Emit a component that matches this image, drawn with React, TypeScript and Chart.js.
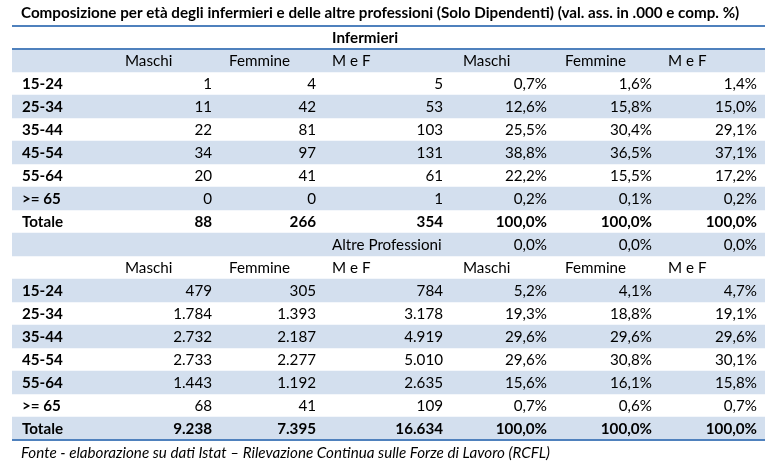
import React, { useEffect, useRef } from "react";
import { Chart, registerables } from "chart.js";

Chart.register(...registerables);

const TITLE =
  "Composizione per età degli infermieri e delle altre professioni (Solo Dipendenti) (val. ass. in .000 e comp. %)";
const SOURCE =
  "Fonte - elaborazione su dati Istat – Rilevazione Continua sulle Forze di Lavoro (RCFL)";

const AGE_GROUPS = ["15-24", "25-34", "35-44", "45-54", "55-64", ">= 65"];
const TOTAL_LABEL = "Totale";
const COLUMN_HEADERS = ["Maschi", "Femmine", "M e F", "Maschi", "Femmine", "M e F"];
const SECTION_1 = "Infermieri";
const SECTION_2 = "Altre Professioni";

// Infermieri (val. ass. in .000)
const infMaschi = [1, 11, 22, 34, 20, 0];
const infFemmine = [4, 42, 81, 97, 41, 0];
const infMeF = [5, 53, 103, 131, 61, 1];
const infTotals = [88, 266, 354];
// Infermieri (comp. %)
const infPctMaschi = [0.7, 12.6, 25.5, 38.8, 22.2, 0.2];
const infPctFemmine = [1.6, 15.8, 30.4, 36.5, 15.5, 0.1];
const infPctMeF = [1.4, 15.0, 29.1, 37.1, 17.2, 0.2];
const infPctTotals = [100, 100, 100];
// Row "Altre Professioni"
const altHeaderPct = [0, 0, 0];

// Altre professioni (val. ass. in .000)
const altMaschi = [479, 1784, 2732, 2733, 1443, 68];
const altFemmine = [305, 1393, 2187, 2277, 1192, 41];
const altMeF = [784, 3178, 4919, 5010, 2635, 109];
const altTotals = [9238, 7395, 16634];
// Altre professioni (comp. %)
const altPctMaschi = [5.2, 19.3, 29.6, 29.6, 15.6, 0.7];
const altPctFemmine = [4.1, 18.8, 29.6, 30.8, 16.1, 0.6];
const altPctMeF = [4.7, 19.1, 29.6, 30.1, 15.8, 0.7];
const altPctTotals = [100, 100, 100];

// ---- formatting ----
function fmtInt(v: number): string {
  const s = Math.round(v).toString();
  return s.replace(/\B(?=(\d{3})+(?!\d))/g, ".");
}
function fmtPct(v: number): string {
  return v.toFixed(1).replace(".", ",") + "%";
}

type Row = {
  label: string;
  kind: "section" | "header" | "data" | "total" | "section2";
  cells: string[];
};

function buildRows(): Row[] {
  const rows: Row[] = [];
  rows.push({ label: "", kind: "section", cells: [SECTION_1] });
  rows.push({ label: "", kind: "header", cells: COLUMN_HEADERS });
  AGE_GROUPS.forEach((g, i) =>
    rows.push({
      label: g,
      kind: "data",
      cells: [
        fmtInt(infMaschi[i]),
        fmtInt(infFemmine[i]),
        fmtInt(infMeF[i]),
        fmtPct(infPctMaschi[i]),
        fmtPct(infPctFemmine[i]),
        fmtPct(infPctMeF[i]),
      ],
    })
  );
  rows.push({
    label: TOTAL_LABEL,
    kind: "total",
    cells: [...infTotals.map(fmtInt), ...infPctTotals.map(fmtPct)],
  });
  rows.push({ label: "", kind: "section2", cells: [SECTION_2, ...altHeaderPct.map(fmtPct)] });
  rows.push({ label: "", kind: "header", cells: COLUMN_HEADERS });
  AGE_GROUPS.forEach((g, i) =>
    rows.push({
      label: g,
      kind: "data",
      cells: [
        fmtInt(altMaschi[i]),
        fmtInt(altFemmine[i]),
        fmtInt(altMeF[i]),
        fmtPct(altPctMaschi[i]),
        fmtPct(altPctFemmine[i]),
        fmtPct(altPctMeF[i]),
      ],
    })
  );
  rows.push({
    label: TOTAL_LABEL,
    kind: "total",
    cells: [...altTotals.map(fmtInt), ...altPctTotals.map(fmtPct)],
  });
  return rows;
}

// layout (x-scale units, 0..TABLE_W)
const TABLE_W = 753;
const LABEL_LEFT = 10;
const RIGHT_EDGES = [200, 304, 431, 535, 640, 745];
const HEADER_LEFT = [113, 217, 320, 451, 553, 656];

const FONT_FAMILY = "Lato, 'Open Sans', sans-serif";
const FONT_SIZE = 15.2;
const TEXT_COLOR = "#000000";
const LINE_COLOR = "#4f81bd";
const SHADE_COLOR = "#d3dfee";

export default function App() {
  const ref = useRef<HTMLCanvasElement | null>(null);

  useEffect(() => {
    document.body.style.margin = "0";
    const canvas = ref.current;
    if (!canvas) return;
    const rows = buildRows();

    const tablePlugin = {
      id: "tableText",
      afterDatasetsDraw(chart: any) {
        const { ctx, chartArea, scales } = chart;
        const xs = scales.x;
        const ys = scales.y;
        ctx.save();
        // lines
        ctx.strokeStyle = LINE_COLOR;
        const line = (yy: number, w: number) => {
          ctx.lineWidth = w;
          ctx.beginPath();
          ctx.moveTo(xs.getPixelForValue(0), yy);
          ctx.lineTo(xs.getPixelForValue(TABLE_W), yy);
          ctx.stroke();
        };
        line(chartArea.top, 2);
        line((ys.getPixelForValue(0) + ys.getPixelForValue(1)) / 2, 2);
        line(chartArea.bottom, 2);

        ctx.fillStyle = TEXT_COLOR;
        ctx.textBaseline = "middle";
        const font = (bold: boolean, italic = false) =>
          `${italic ? "italic " : ""}${bold ? "bold " : ""}${FONT_SIZE}px ${FONT_FAMILY}`;

        rows.forEach((r, i) => {
          const py = ys.getPixelForValue(i) + 1;
          if (r.label) {
            ctx.font = font(true);
            ctx.textAlign = "left";
            ctx.fillText(r.label, xs.getPixelForValue(LABEL_LEFT), py);
          }
          if (r.kind === "header") {
            ctx.font = font(false);
            ctx.textAlign = "left";
            r.cells.forEach((c, j) => ctx.fillText(c, xs.getPixelForValue(HEADER_LEFT[j]), py));
          } else if (r.kind === "section") {
            ctx.font = font(true);
            ctx.textAlign = "left";
            ctx.fillText(r.cells[0], xs.getPixelForValue(HEADER_LEFT[2]), py);
          } else if (r.kind === "section2") {
            ctx.font = font(false);
            ctx.textAlign = "left";
            ctx.fillText(r.cells[0], xs.getPixelForValue(HEADER_LEFT[2]), py);
            ctx.textAlign = "right";
            r.cells.slice(1).forEach((c, j) => ctx.fillText(c, xs.getPixelForValue(RIGHT_EDGES[3 + j]), py));
          } else {
            ctx.font = font(r.kind === "total");
            ctx.textAlign = "right";
            r.cells.forEach((c, j) => ctx.fillText(c, xs.getPixelForValue(RIGHT_EDGES[j]), py));
          }
        });

        // title & source
        ctx.textAlign = "left";
        ctx.font = font(true);
        ctx.fillText(TITLE, xs.getPixelForValue(LABEL_LEFT - 1), chartArea.top - 13);
        ctx.font = font(false, true);
        ctx.fillText(SOURCE, xs.getPixelForValue(LABEL_LEFT - 1), chartArea.bottom + 13);
        ctx.restore();
      },
    };

    const chart = new Chart(canvas, {
      type: "bar",
      data: {
        labels: rows.map((r, i) => r.label || `row${i}`),
        datasets: [
          {
            data: rows.map((_, i) => (i % 2 === 1 ? [0, TABLE_W] : null)) as any,
            backgroundColor: SHADE_COLOR,
            borderWidth: 0,
            barPercentage: 1,
            categoryPercentage: 1,
          },
        ],
      },
      options: {
        indexAxis: "y",
        responsive: false,
        animation: false,
        layout: { padding: { left: 12, right: 10, top: 26, bottom: 25 } },
        plugins: { legend: { display: false }, tooltip: { enabled: false }, title: { display: false } },
        scales: {
          x: { type: "linear", min: 0, max: TABLE_W, display: false },
          y: { type: "category", display: false, offset: true, grid: { display: false } },
        },
      },
      plugins: [tablePlugin],
    });
    return () => chart.destroy();
  }, []);

  return <canvas ref={ref} width={775} height={465} style={{ display: "block" }} />;
}
